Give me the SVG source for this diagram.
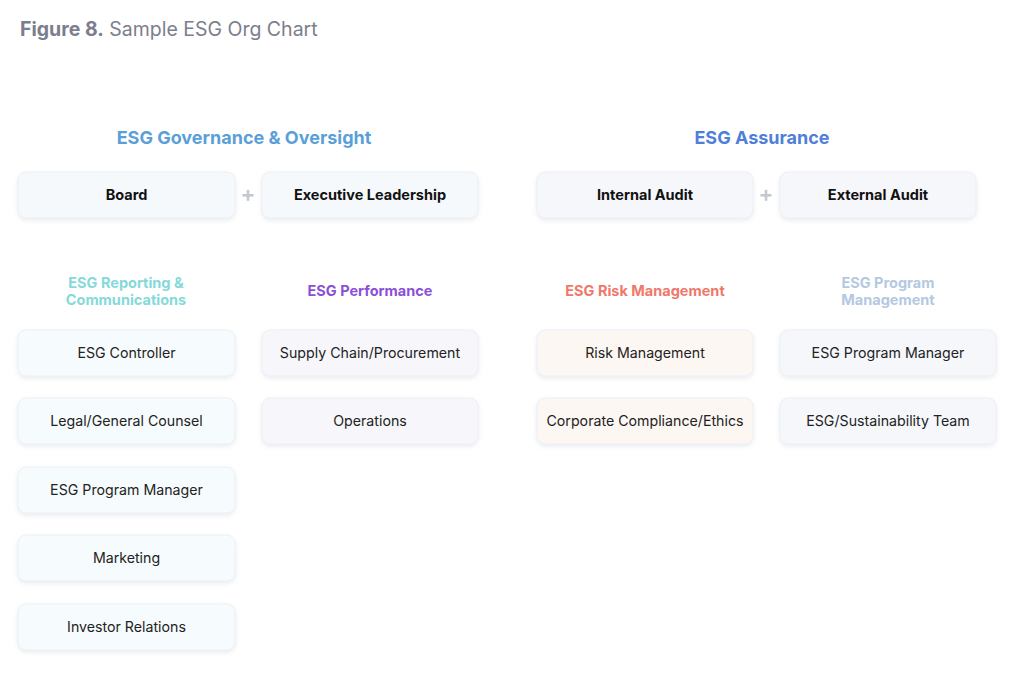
<svg xmlns="http://www.w3.org/2000/svg" width="1024" height="678" viewBox="0 0 1024 678">
<defs>
<filter id="sh" x="-10%" y="-30%" width="120%" height="170%">
<feDropShadow dx="0" dy="2" stdDeviation="2" flood-color="#8090a8" flood-opacity="0.18"/>
</filter>
<style>
text{font-family:Inter,"Noto Sans","Liberation Sans",sans-serif;}
.box{stroke:#eceff4;stroke-width:1;filter:url(#sh);}
.t{font-size:14.2px;fill:#222;text-anchor:middle;}
.tb{font-size:14.5px;fill:#111;font-weight:700;text-anchor:middle;}
.h1{font-size:18px;font-weight:700;text-anchor:middle;}
.h2{font-size:14.5px;font-weight:700;text-anchor:middle;}
.plus{fill:#c4c8cf;}
.c0{fill:#f5f9fc;}.c1{fill:#f6fcfd;}.c2{fill:#f7f7fb;}.c3{fill:#fdf7f4;}.c4{fill:#f5f7fb;}
</style>
</defs>
<rect width="1024" height="678" fill="#ffffff"/>
<text x="20" y="36" font-size="19.5" fill="#7b7e8c"><tspan font-weight="700">Figure 8.</tspan> Sample ESG Org Chart</text>

<g id="headers">
<text class="h1" x="244" y="144" fill="#5b9fd8">ESG Governance &amp; Oversight</text>
<text class="h1" x="762" y="144" fill="#4f7fd8">ESG Assurance</text>
<text class="h2" x="126" y="288" fill="#86d9d9">ESG Reporting &amp;</text>
<text class="h2" x="126" y="305" fill="#86d9d9">Communications</text>
<text class="h2" x="370" y="296" fill="#8b4fd8">ESG Performance</text>
<text class="h2" x="645" y="296" fill="#f0786b">ESG Risk Management</text>
<text class="h2" x="888" y="288" fill="#b3c9e2">ESG Program</text>
<text class="h2" x="888" y="305" fill="#b3c9e2">Management</text>
</g>

<g id="connectors">
<g id="plus1" class="plus"><rect x="242.5" y="194" width="11" height="2.6"/><rect x="246.7" y="189.8" width="2.6" height="11"/></g>
<g id="plus2" class="plus"><rect x="760.5" y="194" width="11" height="2.6"/><rect x="764.7" y="189.8" width="2.6" height="11"/></g>
</g>

<g id="board"><rect class="box c0" x="18" y="172" width="217" height="46" rx="8"/><text class="tb" x="126.5" y="200">Board</text></g>
<g id="exec"><rect class="box c0" x="262" y="172" width="216" height="46" rx="8"/><text class="tb" x="370" y="200">Executive Leadership</text></g>
<g id="internal-audit"><rect class="box c4" x="537" y="172" width="216" height="46" rx="8"/><text class="tb" x="645" y="200">Internal Audit</text></g>
<g id="external-audit"><rect class="box c4" x="780" y="172" width="196" height="46" rx="8"/><text class="tb" x="878" y="200">External Audit</text></g>

<g id="esg-controller"><rect class="box c1" x="18" y="330" width="217" height="46" rx="8"/><text class="t" x="126.5" y="358">ESG Controller</text></g>
<g id="legal"><rect class="box c1" x="18" y="398" width="217" height="46" rx="8"/><text class="t" x="126.5" y="426">Legal/General Counsel</text></g>
<g id="esg-pm-1"><rect class="box c1" x="18" y="467" width="217" height="46" rx="8"/><text class="t" x="126.5" y="495">ESG Program Manager</text></g>
<g id="marketing"><rect class="box c1" x="18" y="535" width="217" height="46" rx="8"/><text class="t" x="126.5" y="563">Marketing</text></g>
<g id="investor"><rect class="box c1" x="18" y="604" width="217" height="46" rx="8"/><text class="t" x="126.5" y="632">Investor Relations</text></g>

<g id="supply"><rect class="box c2" x="262" y="330" width="216" height="46" rx="8"/><text class="t" x="370" y="358">Supply Chain/Procurement</text></g>
<g id="operations"><rect class="box c2" x="262" y="398" width="216" height="46" rx="8"/><text class="t" x="370" y="426">Operations</text></g>

<g id="risk"><rect class="box c3" x="537" y="330" width="216" height="46" rx="8"/><text class="t" x="645" y="358">Risk Management</text></g>
<g id="compliance"><rect class="box c3" x="537" y="398" width="216" height="46" rx="8"/><text class="t" x="645" y="426">Corporate Compliance/Ethics</text></g>

<g id="esg-pm-2"><rect class="box c4" x="780" y="330" width="216" height="46" rx="8"/><text class="t" x="888" y="358">ESG Program Manager</text></g>
<g id="sustain"><rect class="box c4" x="780" y="398" width="216" height="46" rx="8"/><text class="t" x="888" y="426">ESG/Sustainability Team</text></g>
</svg>
